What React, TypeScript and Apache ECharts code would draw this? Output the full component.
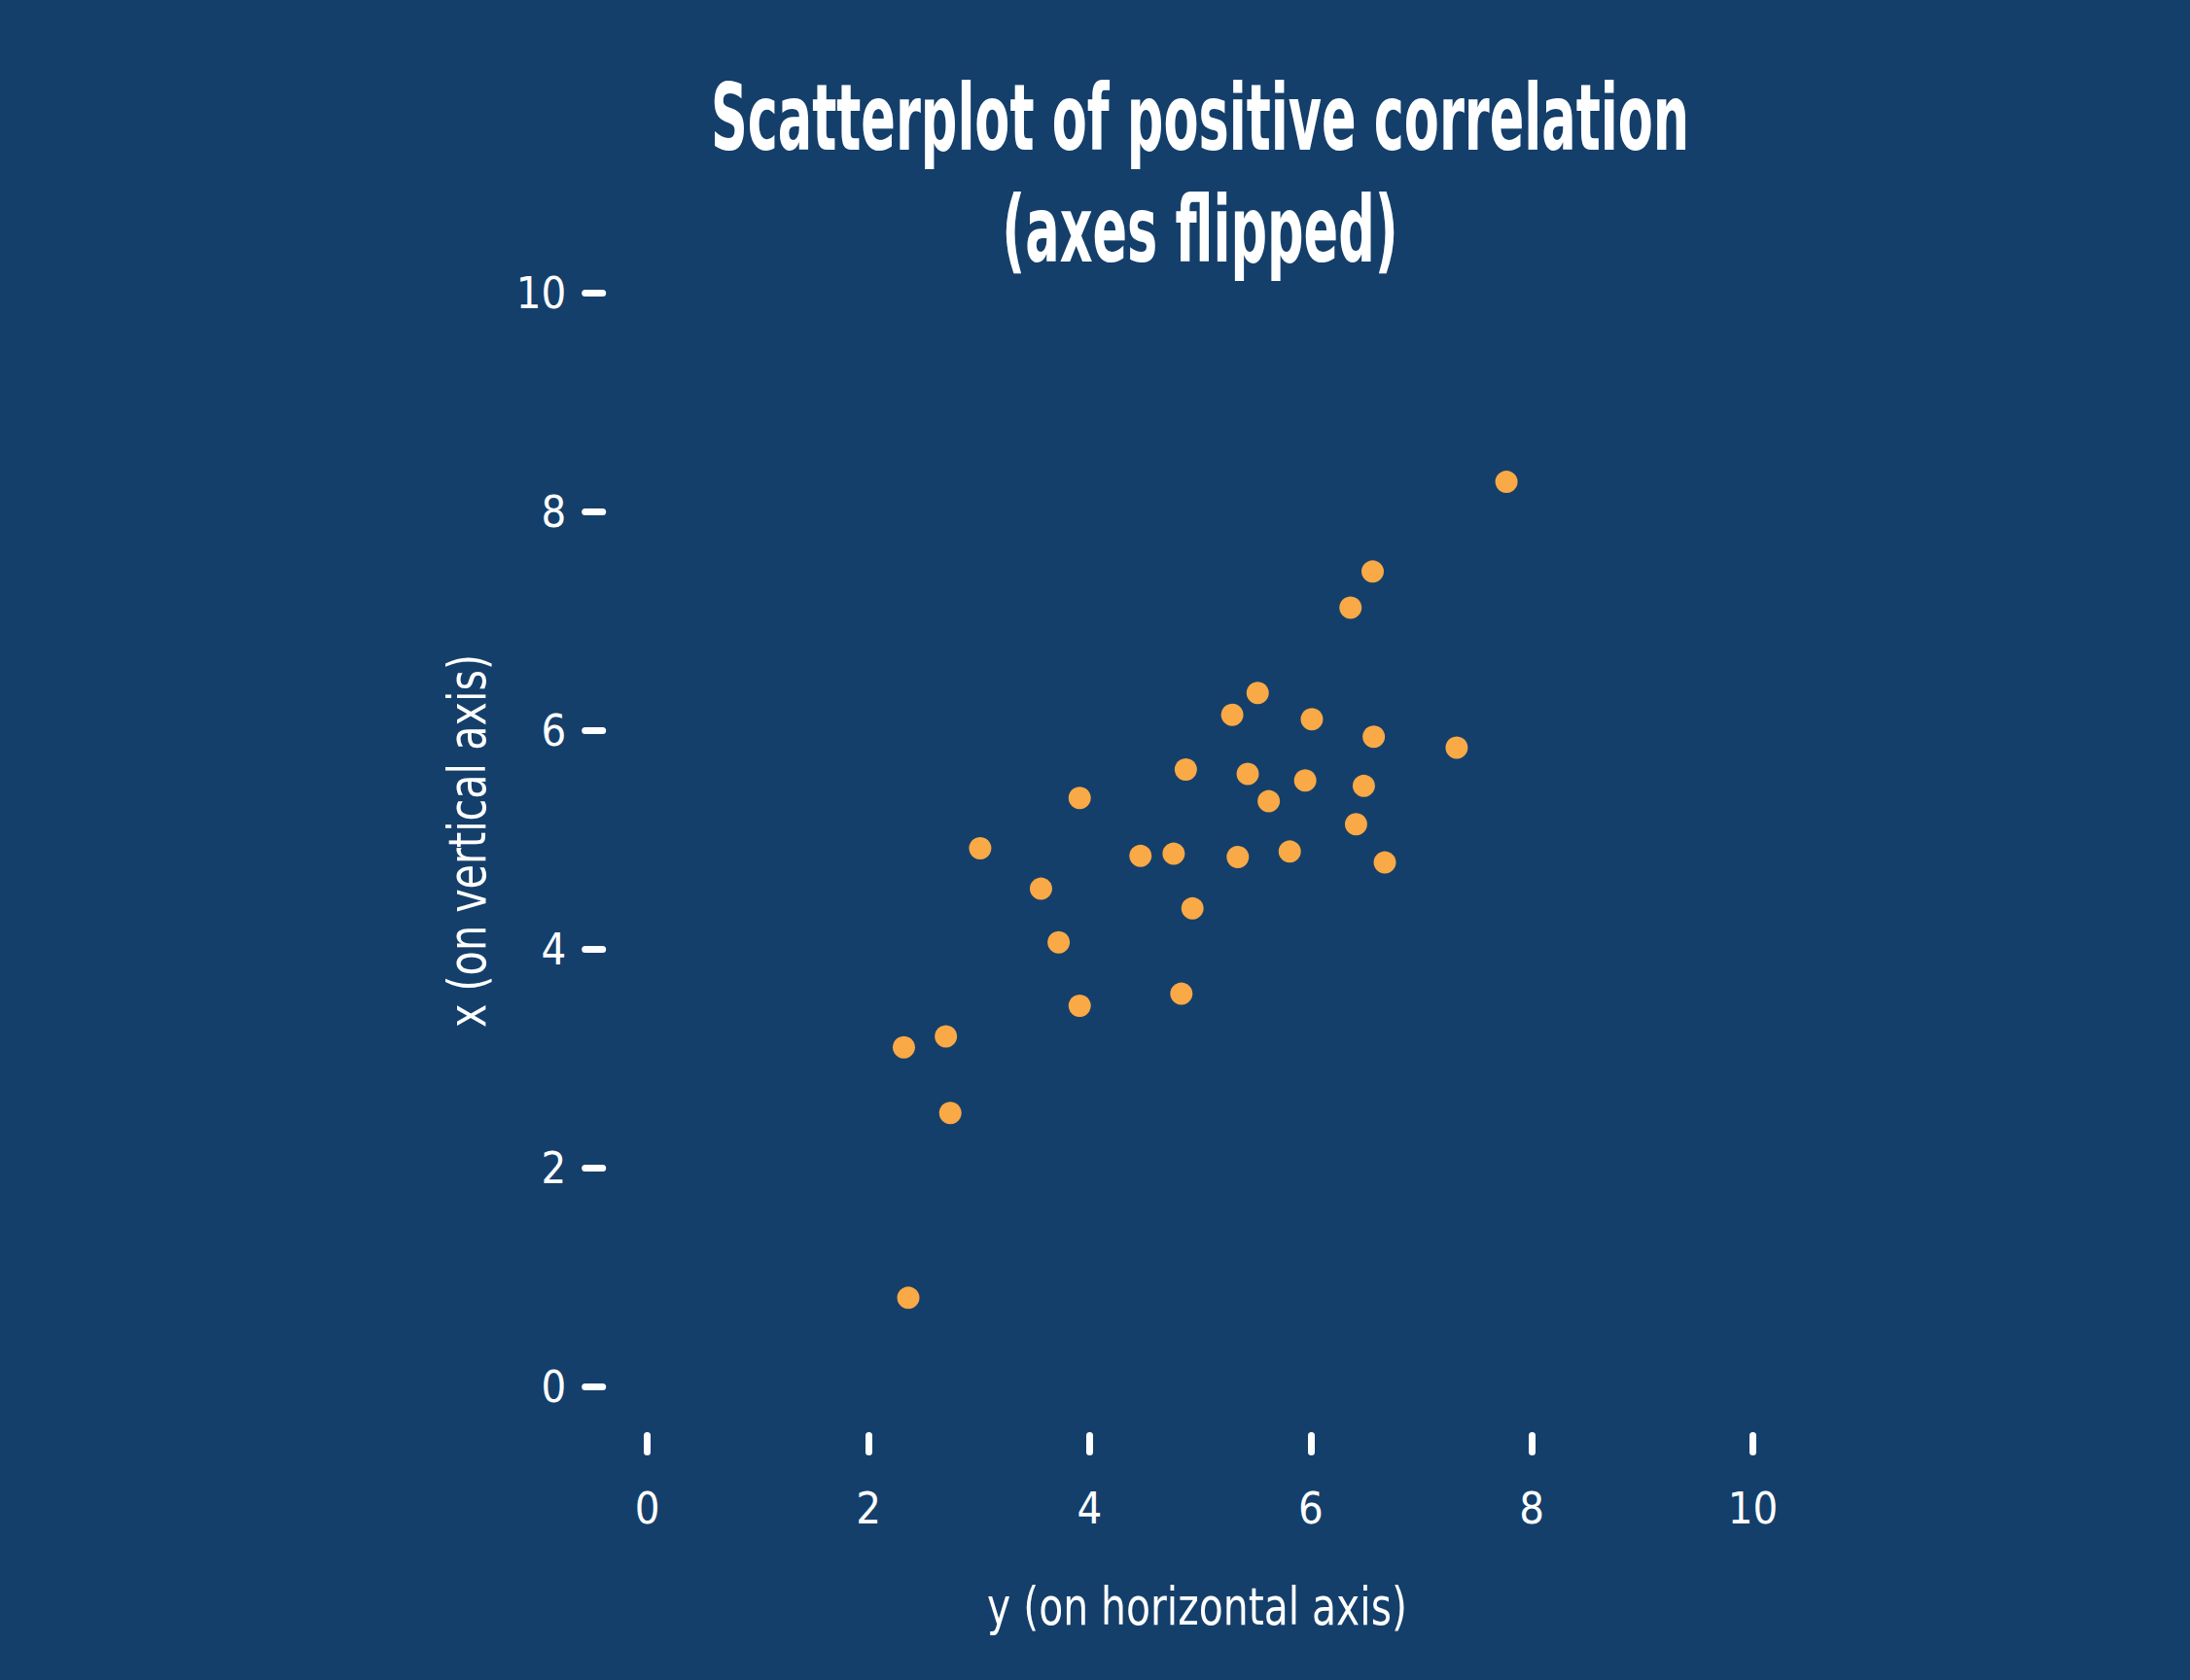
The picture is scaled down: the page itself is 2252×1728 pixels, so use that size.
import React, { useEffect, useRef } from "react";
import * as echarts from "echarts";

// Values (horizontal = "y", vertical = "x")
const hValues = [7.77, 6.56, 6.36, 5.52, 5.29, 6.01, 6.57, 7.32, 4.87, 5.43, 5.95, 6.48, 5.62, 3.91, 6.41, 3.01, 4.46, 4.76, 5.34, 5.81, 6.67, 3.56, 4.93, 3.72, 4.83, 3.91, 2.32, 2.70, 2.74, 2.36];
const vValues = [8.27, 7.45, 7.12, 6.34, 6.14, 6.10, 5.94, 5.84, 5.64, 5.60, 5.54, 5.49, 5.35, 5.38, 5.14, 4.92, 4.85, 4.87, 4.84, 4.89, 4.79, 4.55, 4.37, 4.06, 3.59, 3.48, 3.10, 3.20, 2.50, 0.81];

const titleLines = ["Scatterplot of positive correlation", "(axes flipped)"];
const xAxisTitle = "y (on horizontal axis)";
const yAxisTitle = "x (on vertical axis)";

const BG = "#143f6b";
const DOT = "#f9a945";
const FONT = "'Noto Sans ExtraCondensed', 'Noto Sans Condensed', 'Liberation Sans Narrow', 'DejaVu Sans Condensed', Roboto, sans-serif";

function measure(text: string, font: string): number {
  const c = document.createElement("canvas");
  const ctx = c.getContext("2d")!;
  ctx.font = font;
  return ctx.measureText(text).width;
}

export default function App() {
  const ref = useRef<HTMLDivElement>(null);
  useEffect(() => {
    if (!ref.current) return;
    const chart = echarts.init(ref.current, null, { renderer: "svg" });

    const titleSize = 95;
    const titleScale = 1007 / measure(titleLines[0], `bold ${titleSize}px ${FONT}`);
    const axTitleSize = 54;
    const xTitleScale = 432 / measure(xAxisTitle, `${axTitleSize}px ${FONT}`);
    const yTitleScale = 384 / measure(yAxisTitle, `${axTitleSize}px ${FONT}`);

    const data = hValues.map((h, i) => [h, vValues[i]]);

    chart.setOption({
      animation: false,
      backgroundColor: BG,
      grid: { left: 665.7, right: 449.4, top: 301, bottom: 302 },
      xAxis: {
        type: "value",
        min: 0,
        max: 10,
        interval: 2,
        position: "bottom",
        offset: 50.5,
        axisLine: { show: false, onZero: false },
        axisTick: { show: true, length: 17, lineStyle: { color: "#ffffff", width: 7, cap: "round" } },
        splitLine: { show: false },
        axisLabel: {
          margin: 74.5,
          verticalAlign: "middle",
          color: "#ffffff",
          fontSize: 45,
          fontFamily: FONT,
        },
      },
      yAxis: {
        type: "value",
        min: 0,
        max: 10,
        interval: 2,
        position: "left",
        offset: 46,
        axisLine: { show: false, onZero: false },
        axisTick: { show: true, length: 18, lineStyle: { color: "#ffffff", width: 7, cap: "round" } },
        splitLine: { show: false },
        axisLabel: {
          margin: 37.5,
          color: "#ffffff",
          fontSize: 45,
          fontFamily: FONT,
        },
      },
      graphic: [
        {
          type: "text",
          x: 1234,
          y: 121,
          scaleX: titleScale,
          style: {
            text: titleLines[0],
            fill: "#ffffff",
            fontSize: titleSize,
            fontWeight: "bold",
            fontFamily: FONT,
            align: "center",
            verticalAlign: "middle",
          },
        },
        {
          type: "text",
          x: 1234,
          y: 236,
          scaleX: titleScale,
          style: {
            text: titleLines[1],
            fill: "#ffffff",
            fontSize: titleSize,
            fontWeight: "bold",
            fontFamily: FONT,
            align: "center",
            verticalAlign: "middle",
          },
        },
        {
          type: "text",
          x: 1231,
          y: 1653,
          scaleX: xTitleScale,
          style: {
            text: xAxisTitle,
            fill: "#ffffff",
            fontSize: axTitleSize,
            fontFamily: FONT,
            align: "center",
            verticalAlign: "middle",
          },
        },
        {
          type: "text",
          x: 480,
          y: 865,
          rotation: Math.PI / 2,
          scaleX: yTitleScale,
          style: {
            text: yAxisTitle,
            fill: "#ffffff",
            fontSize: axTitleSize,
            fontFamily: FONT,
            align: "center",
            verticalAlign: "middle",
          },
        },
      ],
      series: [
        {
          type: "scatter",
          data,
          symbol: "circle",
          symbolSize: 23,
          itemStyle: { color: DOT, opacity: 1 },
        },
      ],
    });
    return () => chart.dispose();
  }, []);
  return <div ref={ref} style={{ position: "absolute", left: 0, top: 0, width: 2252, height: 1728 }} />;
}
